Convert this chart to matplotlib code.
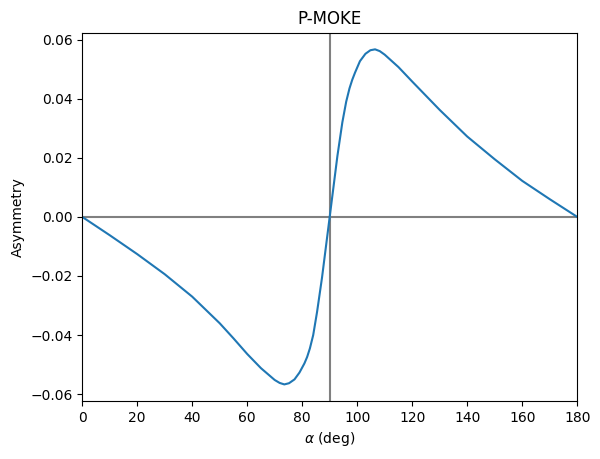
import numpy as np
import matplotlib
matplotlib.use("Agg")
import matplotlib.pyplot as plt

# angle of incidence (deg) and P-MOKE asymmetry
alpha = [0, 10, 20, 30, 40, 50, 55, 60, 65, 70, 71.8, 73.5, 75.2, 77.2,
         79.0, 80.8, 81.8, 82.8, 84.0, 85.4, 87.2, 88.6, 90,
         91.4, 92.8, 94.6, 96.0, 97.2, 98.2, 99.2, 101.0, 103.0, 104.8,
         106.5, 108.2, 110, 115, 120, 130, 140, 150, 160, 170, 180]
asym = [0, -0.0062, -0.0126, -0.0194, -0.0270, -0.0360, -0.0411, -0.0464,
        -0.0512, -0.0552, -0.0562, -0.0567, -0.0563, -0.0550,
        -0.0527, -0.0496, -0.0474, -0.0445, -0.0400, -0.0322, -0.0206,
        -0.0103, 0,
        0.0103, 0.0206, 0.0320, 0.0390, 0.0435, 0.0464, 0.0488, 0.0527,
        0.0552, 0.0564, 0.0567, 0.0561, 0.0549, 0.0507,
        0.0458, 0.0362, 0.0272, 0.0195, 0.0122, 0.0060, 0]

fig = plt.figure(figsize=(6.0, 4.59), dpi=100)
fig.subplots_adjust(left=0.137, right=0.962, top=0.929, bottom=0.126)
ax = fig.add_subplot(111)

ax.axhline(0, color="gray")
ax.axvline(90, color="gray")
ax.plot(alpha, asym)

ax.set_xlim(0, 180)
ax.set_xlabel(r"$\alpha$ (deg)")
ax.set_ylabel("Asymmetry")
ax.set_title("P-MOKE")

fig.savefig("out.png", dpi=100)
